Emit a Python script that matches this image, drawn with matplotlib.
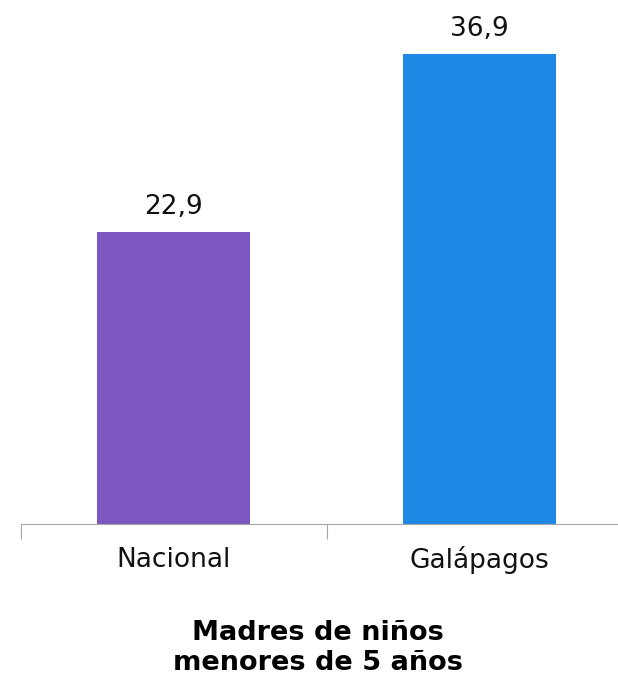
import matplotlib.pyplot as plt

categorias = ["Nacional", "Galápagos"]
valores = [22.9, 36.9]
etiquetas = ["22,9", "36,9"]
colores = ["#7E57C2", "#1E88E5"]

plt.rcParams['font.family'] = ['DejaVu Sans']

fig = plt.figure(figsize=(6.18, 6.86), dpi=100)
ax = fig.add_axes([20.5 / 618, 1 - 523.5 / 686, 612 / 618, 523.5 / 686])

x = range(len(categorias))
barras = ax.bar(x, valores, width=0.5, color=colores)
ax.set_xlim(-0.5, 1.5)
ax.set_ylim(0, 523.5 / 12.72)

# etiquetas de valor sobre las barras
for b, t in zip(barras, etiquetas):
    ax.text(b.get_x() + b.get_width() / 2, b.get_height() + 1.4, t,
            ha='center', va='baseline', fontsize=19, color='#111111')

for s in ['top', 'right', 'left']:
    ax.spines[s].set_visible(False)
ax.spines['bottom'].set_color('#A6A6A6')
ax.set_yticks([])
ax.set_xticks([-0.5, 0.5, 1.5])
ax.set_xticklabels([])
ax.tick_params(axis='x', length=11, color='#A6A6A6', direction='out')
for i, c in enumerate(categorias):
    ax.text(i, -2.85, c, ha='center', va='center', fontsize=19, color='#111111')

fig.text(0.515, 1 - 648 / 686, "Madres de niños\nmenores de 5 años", ha='center', va='center',
         fontsize=19.5, fontweight='bold', linespacing=1.22)

fig.savefig('out.png', dpi=100)
